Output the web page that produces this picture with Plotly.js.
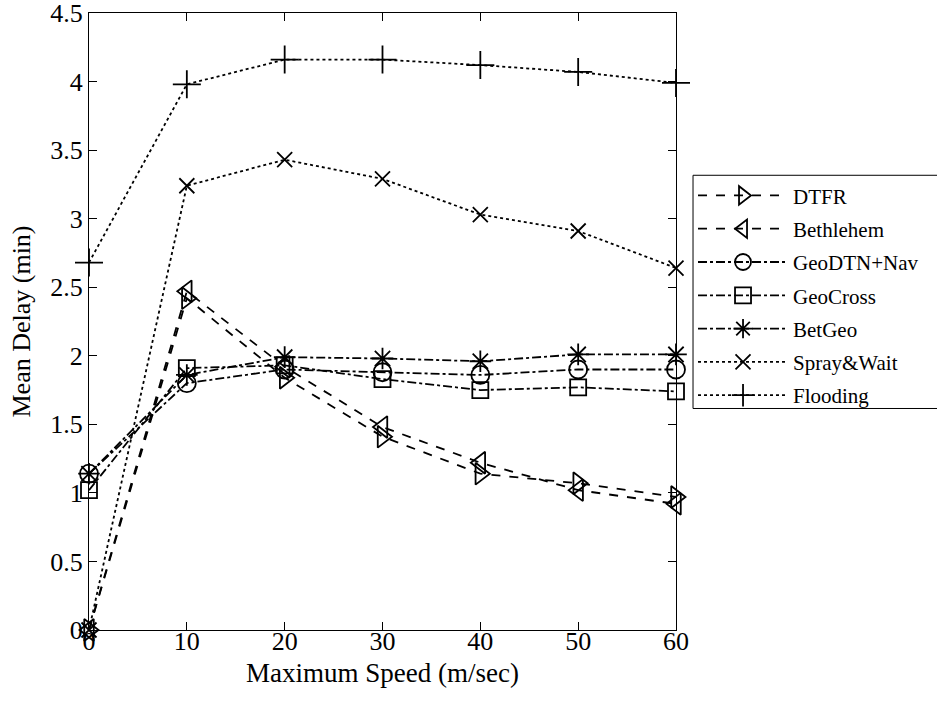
<!DOCTYPE html>
<html>
<head>
<meta charset="utf-8">
<script src="https://cdn.plot.ly/plotly-3.0.1.min.js"></script>
<style>html,body{margin:0;padding:0;background:#fff;}#chart{width:937px;height:705px;}</style>
</head>
<body>
<div id="chart"></div>
<script>
const speeds = [0, 10, 20, 30, 40, 50, 60];
const dtfr = [0, 2.42, 1.84, 1.41, 1.14, 1.07, 0.97];
const bethlehem = [0, 2.47, 1.92, 1.48, 1.22, 1.02, 0.92];
const geodtn = [1.14, 1.80, 1.90, 1.88, 1.86, 1.90, 1.90];
const geocross = [1.02, 1.91, 1.93, 1.83, 1.75, 1.77, 1.74];
const betgeo = [1.14, 1.86, 1.99, 1.98, 1.96, 2.01, 2.01];
const spray = [0, 3.24, 3.43, 3.29, 3.03, 2.91, 2.64];
const flooding = [2.68, 3.98, 4.16, 4.16, 4.12, 4.07, 3.99];
const names = ['DTFR', 'Bethlehem', 'GeoDTN+Nav', 'GeoCross', 'BetGeo', 'Spray&Wait', 'Flooding'];
const yTicks = [0, 0.5, 1, 1.5, 2, 2.5, 3, 3.5, 4, 4.5];
const yTickText = ['0', '0.5', '1', '1.5', '2', '2.5', '3', '3.5', '4', '4.5'];
const xTicks = [0, 10, 20, 30, 40, 50, 60];

const series = [dtfr, bethlehem, geodtn, geocross, betgeo, spray, flooding];
const symbols = ['triangle-right-open', 'triangle-left-open', 'circle-open', 'square-open', 'asterisk-open', 'x-thin-open', 'cross-thin-open'];
const sizes = [19, 19, 18, 16, 18, 15, 20];
const dashes = ['dash', 'dash', 'dashdot', 'dashdot', 'dashdot', 'dot', 'dot'];

const traces = series.map((ys, i) => ({
  x: speeds, y: ys, name: names[i], type: 'scatter', mode: 'lines+markers',
  cliponaxis: false, legendgroup: 'g' + i,
  line: {color: '#000', width: 1.8, dash: dashes[i]},
  marker: {symbol: symbols[i], size: sizes[i], color: '#000', line: {color: '#000', width: 1.8}}
}));

const font = {family: 'Liberation Serif, Times New Roman, serif', color: '#000'};
const layout = {
  width: 937, height: 705,
  margin: {l: 89, r: 261, t: 13, b: 75, autoexpand: false},
  paper_bgcolor: '#fff', plot_bgcolor: '#fff',
  font: Object.assign({size: 20}, font),
  showlegend: true,
  legend: {
    x: 1.029, xanchor: 'left', y: 0.737, yanchor: 'top',
    borderwidth: 0, bgcolor: 'rgba(0,0,0,0)',
    font: Object.assign({size: 21}, font),
    itemwidth: 90, traceorder: 'grouped', tracegroupgap: 3
  },
  shapes: [{
    type: 'rect', xref: 'paper', yref: 'paper', layer: 'above',
    x0: 1.029, x1: 1.5, y0: 0.359, y1: 0.737,
    line: {color: '#000', width: 1}, fillcolor: 'rgba(0,0,0,0)'
  }],
  xaxis: {
    range: [0, 60], tickvals: xTicks, ticks: 'inside', ticklen: 8, tickcolor: '#000',
    showline: true, linecolor: '#000', linewidth: 1, mirror: 'ticks', showgrid: false, zeroline: false,
    tickfont: Object.assign({size: 26}, font), ticklabeloverflow: 'allow', ticklabelstandoff: -12,
    title: {text: 'Maximum Speed (m/sec)', font: Object.assign({size: 27}, font), standoff: 7}
  },
  yaxis: {
    range: [0, 4.5], tickvals: yTicks, ticktext: yTickText, ticks: 'inside', ticklen: 8, tickcolor: '#000',
    showline: true, linecolor: '#000', linewidth: 1, mirror: 'ticks', showgrid: false, zeroline: false,
    tickfont: Object.assign({size: 26}, font), ticklabeloverflow: 'allow',
    title: {text: 'Mean Delay (min)', font: Object.assign({size: 26}, font), standoff: 12}
  }
};
Plotly.newPlot('chart', traces, layout, {displayModeBar: false, staticPlot: true});
</script>
</body>
</html>
